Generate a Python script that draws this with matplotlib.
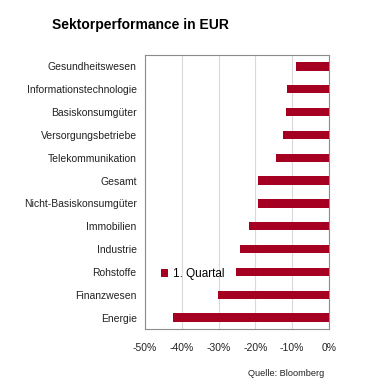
import matplotlib.pyplot as plt
from matplotlib.ticker import FuncFormatter

# Sectors, top to bottom as shown
sectors = ['Gesundheitswesen', 'Informationstechnologie', 'Basiskonsumgüter',
           'Versorgungsbetriebe', 'Telekommunikation', 'Gesamt',
           'Nicht-Basiskonsumgüter', 'Immobilien', 'Industrie', 'Rohstoffe',
           'Finanzwesen', 'Energie']
q1_perf = [-9.0, -11.5, -11.8, -12.6, -14.3, -19.3,
           -19.3, -21.8, -24.3, -25.4, -30.2, -42.4]
x_ticks = [-50, -40, -30, -20, -10, 0]

plt.rcParams['font.family'] = ['Liberation Sans', 'DejaVu Sans']

fig = plt.figure(figsize=(3.67, 3.92), dpi=100)
ax = fig.add_axes([145 / 367, 1 - 329 / 392, 184 / 367, 274 / 392])

pos = list(range(len(sectors)))[::-1]
ax.barh(pos, q1_perf, height=0.37, color='#a50021', label='1. Quartal', zorder=3)

ax.set_xlim(-50, 0)
ax.set_ylim(-0.5, len(sectors) - 0.5)
ax.set_xticks(x_ticks)
ax.xaxis.set_major_formatter(FuncFormatter(lambda v, p: f'{int(v)}%'))
ax.set_yticks(pos)
ax.set_yticklabels(sectors)
ax.tick_params(axis='both', length=0, labelsize=7.5, colors='#222222')
ax.tick_params(axis='x', pad=10)
ax.tick_params(axis='y', pad=6)
ax.grid(axis='x', color='#d9d9d9', linewidth=0.8, zorder=0)
for s in ax.spines.values():
    s.set_color('#8c8c8c')
    s.set_linewidth(0.8)

ax.legend(loc='lower left', bbox_to_anchor=(0.03, 0.14), frameon=False,
          fontsize=8.5, handlelength=0.6, handleheight=0.6, handletextpad=0.4)

fig.text(52 / 367, 1 - 25 / 392, 'Sektorperformance in EUR', fontsize=10,
         fontweight='bold', va='center', ha='left')
fig.text(324 / 367, 1 - 373 / 392, 'Quelle: Bloomberg', fontsize=6.6,
         va='center', ha='right', color='#222222')

fig.savefig('out.png', dpi=100)
